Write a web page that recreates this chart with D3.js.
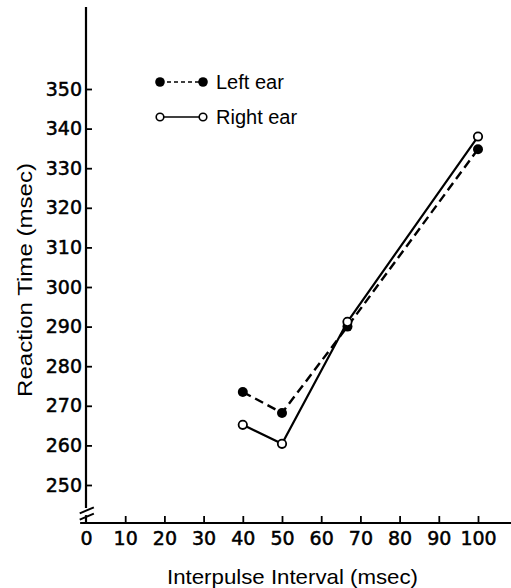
<!DOCTYPE html>
<html><head><meta charset="utf-8">
<script src="https://cdn.jsdelivr.net/npm/d3@7"></script>
<style>
html,body{margin:0;padding:0;background:#fff;}
svg{display:block;}
</style></head>
<body>
<script>
const intervals = [40, 50, 66.7, 100];
const leftEar = [273.5, 268.2, 290.0, 334.8];
const rightEar = [265.2, 260.4, 291.2, 338.0];
const xTicks = [0, 10, 20, 30, 40, 50, 60, 70, 80, 90, 100];
const yTicks = [250, 260, 270, 280, 290, 300, 310, 320, 330, 340, 350];
const seriesNames = ["Left ear", "Right ear"];
const xTitle = "Interpulse Interval (msec)";
const yTitle = "Reaction Time (msec)";

const W = 511, H = 588;
const svg = d3.select("body").append("svg").attr("width", W).attr("height", H);
const x = d3.scaleLinear().domain([0, 100]).range([86, 478]);
const y = d3.scaleLinear().domain([250, 350]).range([485, 89]);
const ink = "#000";

function styleTickText(sel) {
  sel.attr("font-family", "DejaVu Sans").attr("font-size", 19).attr("fill", ink)
    .attr("stroke", ink).attr("stroke-width", 0.5);
}

// x axis
const gx = svg.append("g").attr("transform", `translate(0,${y(240.4)})`)
  .call(d3.axisBottom(x).tickValues(xTicks).tickSize(-7).tickPadding(8).tickFormat(d3.format("d")));
gx.select(".domain").remove();
gx.selectAll(".tick line").attr("stroke", ink).attr("stroke-width", 1.8);
gx.selectAll(".tick text").call(styleTickText);
gx.selectAll(".tick").filter(d => d === 0).select("line").remove();
svg.append("line").attr("x1", x(-1.5)).attr("x2", x(108.5))
  .attr("y1", y(240.4)).attr("y2", y(240.4)).attr("stroke", ink).attr("stroke-width", 2.2);

// y axis
const gy = svg.append("g").attr("transform", `translate(${x(0)},0)`)
  .call(d3.axisLeft(y).tickValues(yTicks).tickSize(-6).tickPadding(4).tickFormat(d3.format("d")));
gy.select(".domain").remove();
gy.selectAll(".tick line").attr("stroke", ink).attr("stroke-width", 1.8);
gy.selectAll(".tick text").call(styleTickText);
svg.append("line").attr("x1", x(0)).attr("x2", x(0))
  .attr("y1", y(370.7)).attr("y2", y(244.2)).attr("stroke", ink).attr("stroke-width", 2.2);
svg.append("line").attr("x1", x(0)).attr("x2", x(0))
  .attr("y1", y(242.4)).attr("y2", y(240.4)).attr("stroke", ink).attr("stroke-width", 2.2);
// axis break marks
[243.6, 242.0].forEach(v => {
  svg.append("line").attr("x1", x(-1.6)).attr("y1", y(v) + 3)
    .attr("x2", x(2.0)).attr("y2", y(v) - 3)
    .attr("stroke", ink).attr("stroke-width", 2);
});

// titles
svg.append("text").attr("x", 292.5).attr("y", 584).attr("text-anchor", "middle")
  .attr("font-family", "Liberation Sans").attr("font-size", 21).attr("fill", ink)
  .attr("textLength", 251).attr("lengthAdjust", "spacingAndGlyphs").text(xTitle);
svg.append("text").attr("transform", "translate(32,280) rotate(-90)").attr("text-anchor", "middle")
  .attr("font-family", "Liberation Sans").attr("font-size", 21).attr("fill", ink)
  .attr("textLength", 234).attr("lengthAdjust", "spacingAndGlyphs").text(yTitle);

// lines
const line = d3.line().x(d => x(d[0])).y(d => y(d[1]));
const leftPts = intervals.map((v, i) => [v, leftEar[i]]);
const rightPts = intervals.map((v, i) => [v, rightEar[i]]);
svg.append("path").datum(rightPts).attr("d", line).attr("fill", "none")
  .attr("stroke", ink).attr("stroke-width", 2.2);
svg.append("path").datum(leftPts).attr("d", line).attr("fill", "none")
  .attr("stroke", ink).attr("stroke-width", 2.4).attr("stroke-dasharray", "9,5");
svg.selectAll(".lm").data(leftPts).enter().append("circle")
  .attr("cx", d => x(d[0])).attr("cy", d => y(d[1])).attr("r", 5).attr("fill", ink);
svg.selectAll(".rm").data(rightPts).enter().append("circle")
  .attr("cx", d => x(d[0])).attr("cy", d => y(d[1])).attr("r", 4.2)
  .attr("fill", "#fff").attr("stroke", ink).attr("stroke-width", 1.8);

// legend
const lg = svg.append("g");
const rows = [{y: 82, filled: true}, {y: 117, filled: false}];
rows.forEach((r, i) => {
  lg.append("line").attr("x1", 160).attr("x2", 203).attr("y1", r.y).attr("y2", r.y)
    .attr("stroke", ink).attr("stroke-width", 1.6)
    .attr("stroke-dasharray", r.filled ? "4,3" : null);
  [160, 203].forEach(cx => {
    lg.append("circle").attr("cx", cx).attr("cy", r.y).attr("r", r.filled ? 4.8 : 3.8)
      .attr("fill", r.filled ? ink : "#fff").attr("stroke", ink).attr("stroke-width", r.filled ? 0 : 1.6);
  });
  lg.append("text").attr("x", 216).attr("y", r.y + 7).attr("font-family", "Liberation Sans")
    .attr("font-size", 20).attr("fill", ink).text(seriesNames[i]);
});
</script>
</body></html>
